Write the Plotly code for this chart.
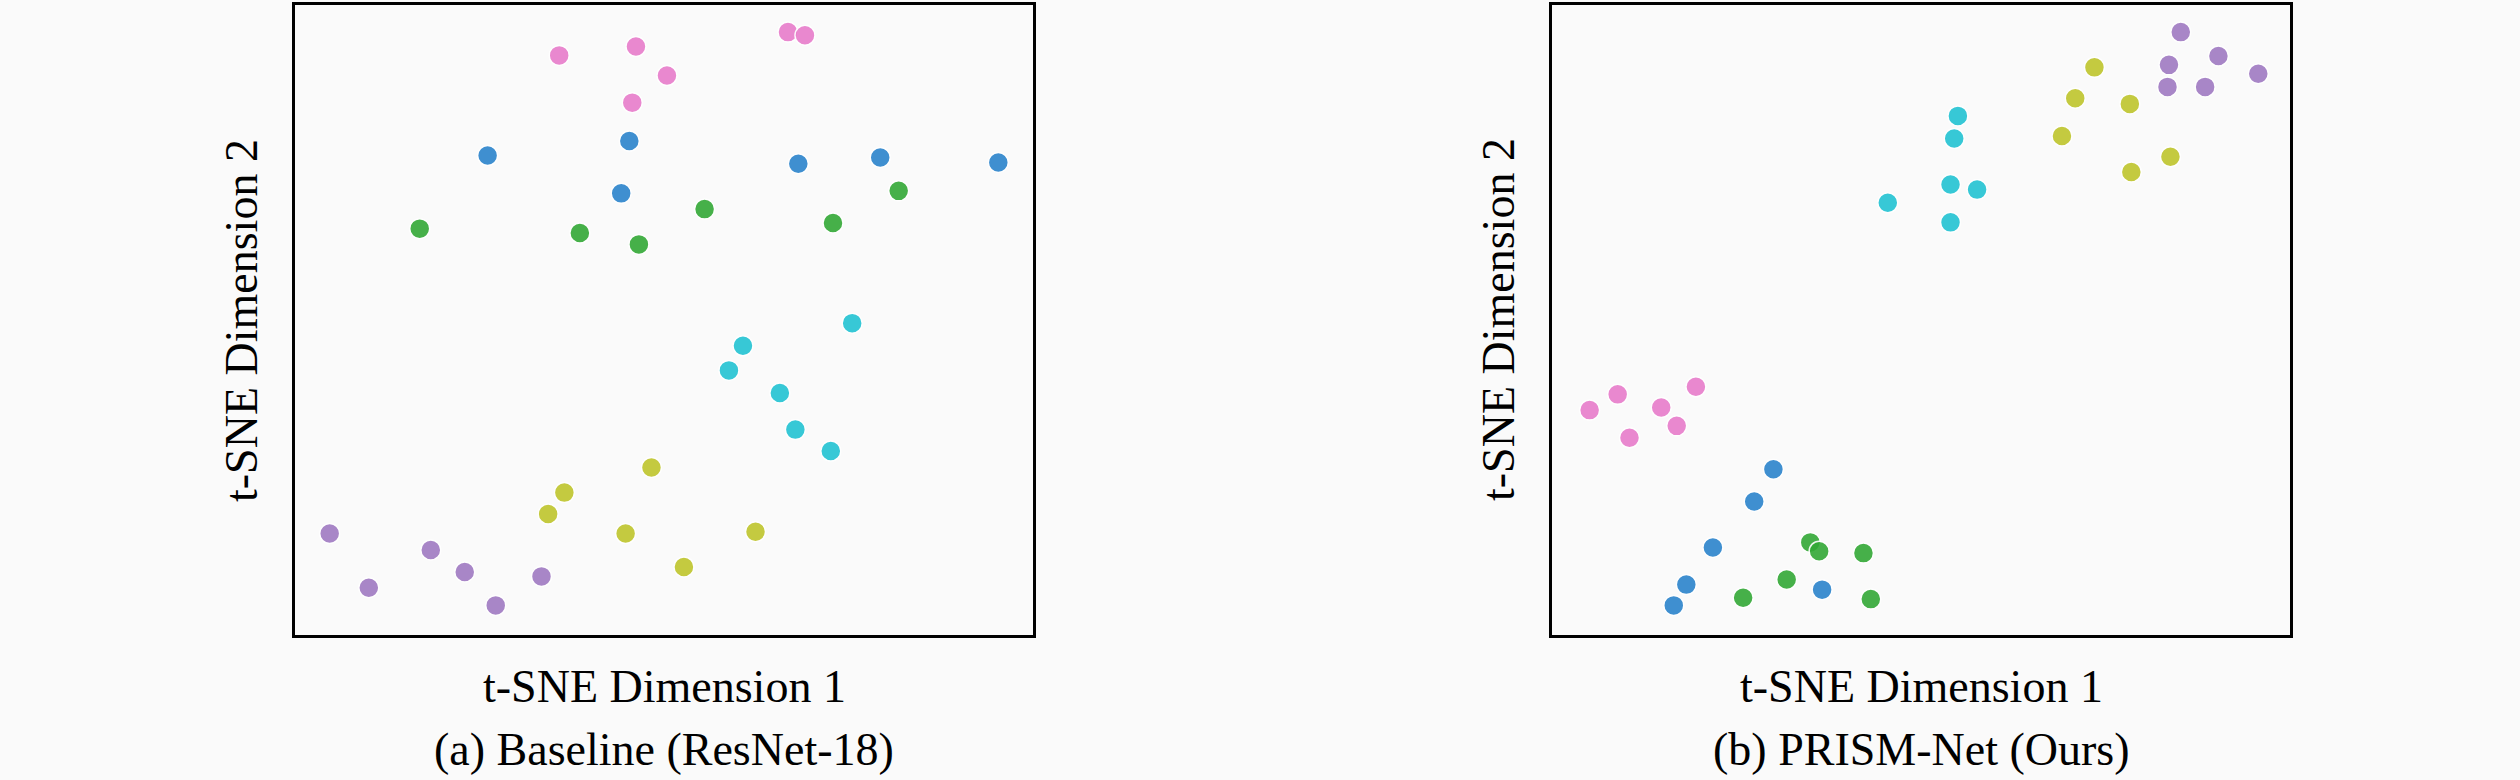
import plotly.graph_objects as go
from plotly.subplots import make_subplots

# class order / colours (tab10-like, as they look in the figure)
classes = ["c0", "c1", "c2", "c3", "c4", "c5"]
colors = ["#2b84cc", "#33a936", "#e87ccb", "#a07ac2", "#bfc52c", "#22c3d3"]

# --- (a) Baseline (ResNet-18) embedding
base_x = {
    "c0": [45.3, 26.1, 68.2, 79.3, 95.3, 44.2],
    "c1": [81.8, 55.5, 72.9, 16.9, 38.6, 46.6],
    "c2": [66.8, 69.1, 46.2, 35.8, 50.4, 45.7],
    "c3": [4.7, 18.4, 23.0, 33.4, 10.0, 27.2],
    "c4": [48.3, 36.5, 34.3, 44.8, 62.4, 52.7],
    "c5": [75.5, 60.7, 58.8, 65.7, 67.8, 72.6],
}
base_y = {
    "c0": [78.4, 76.1, 74.8, 75.8, 75.0, 70.1],
    "c1": [70.5, 67.6, 65.4, 64.5, 63.8, 62.0],
    "c2": [95.7, 95.2, 93.4, 92.0, 88.8, 84.5],
    "c3": [16.1, 13.5, 10.0, 9.3, 7.5, 4.7],
    "c4": [26.6, 22.6, 19.2, 16.1, 16.4, 10.8],
    "c5": [49.5, 45.9, 42.0, 38.4, 32.6, 29.2],
}

# --- (b) PRISM-Net (Ours) embedding
ours_x = {
    "c0": [30.0, 27.4, 21.8, 18.2, 36.6, 16.5],
    "c1": [35.0, 36.2, 42.2, 31.8, 25.9, 43.2],
    "c2": [19.5, 8.9, 14.8, 5.1, 16.9, 10.5],
    "c3": [85.2, 90.3, 83.6, 95.7, 83.4, 88.5],
    "c4": [73.5, 70.9, 78.3, 69.1, 83.8, 78.5],
    "c5": [55.0, 54.5, 54.0, 57.6, 45.5, 54.0],
}
ours_y = {
    "c0": [26.3, 21.2, 13.9, 8.0, 7.2, 4.7],
    "c1": [14.7, 13.3, 13.0, 8.8, 5.9, 5.7],
    "c2": [39.4, 38.2, 36.1, 35.7, 33.2, 31.3],
    "c3": [95.7, 91.9, 90.5, 89.1, 87.0, 87.0],
    "c4": [90.1, 85.2, 84.3, 79.2, 75.9, 73.5],
    "c5": [82.4, 78.8, 71.5, 70.7, 68.6, 65.5],
}

x_title = "t-SNE Dimension 1"
y_title = "t-SNE Dimension 2"
captions = ["(a) Baseline (ResNet-18)", "(b) PRISM-Net (Ours)"]

FONT = "Liberation Serif"
BG = "#fafafa"

fig = make_subplots(rows=1, cols=2)

for col, (xs, ys) in enumerate([(base_x, base_y), (ours_x, ours_y)], start=1):
    for cls, c in zip(classes, colors):
        fig.add_trace(go.Scatter(
            x=xs[cls], y=ys[cls], mode="markers", name=cls,
            marker=dict(size=20, color=c, opacity=0.9,
                        line=dict(color="white", width=1.5)),
            showlegend=False,
        ), row=1, col=col)

x_domains = [[295 / 2520, 1033 / 2520], [1552 / 2520, 2290 / 2520]]
y_domain = [145 / 780, 775 / 780]

axis_style = dict(range=[0, 100], showgrid=False, zeroline=False,
                  showticklabels=False, ticks="", showline=True,
                  linecolor="black", linewidth=3, mirror=True)
fig.update_layout(
    xaxis=dict(domain=x_domains[0], **axis_style),
    xaxis2=dict(domain=x_domains[1], **axis_style),
    yaxis=dict(domain=y_domain, **axis_style),
    yaxis2=dict(domain=y_domain, **axis_style),
)

annotations = []
for i, dom in enumerate(x_domains):
    cx = (dom[0] + dom[1]) / 2
    annotations.append(dict(x=cx, y=0.1205, xref="paper", yref="paper",
                            text=x_title, showarrow=False,
                            xanchor="center", yanchor="middle",
                            font=dict(family=FONT, size=46, color="black")))
    annotations.append(dict(x=cx, y=0.0385, xref="paper", yref="paper",
                            text=captions[i], showarrow=False,
                            xanchor="center", yanchor="middle",
                            font=dict(family=FONT, size=46, color="black")))
    annotations.append(dict(x=dom[0] - 54 / 2520, y=sum(y_domain) / 2,
                            xref="paper", yref="paper",
                            text=y_title, showarrow=False, textangle=-90,
                            xanchor="center", yanchor="middle",
                            font=dict(family=FONT, size=46, color="black")))

fig.update_layout(
    width=2520, height=780,
    margin=dict(l=0, r=0, t=0, b=0),
    paper_bgcolor=BG, plot_bgcolor=BG,
    annotations=annotations,
)

# drop the default 8px page margin so the figure sits at the window origin
fig.write_html("out.html",
               config={"displayModeBar": False},
               post_script="document.body.style.margin='0';"
                           "document.body.style.background='#fafafa';")
